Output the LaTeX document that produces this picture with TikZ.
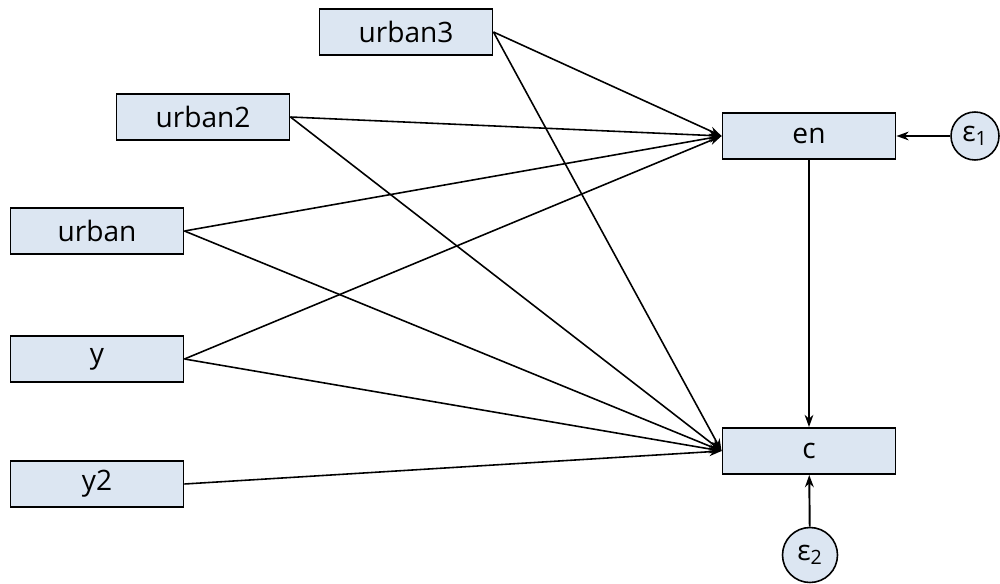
\documentclass[tikz,border=0pt]{standalone}
\usepackage{fontspec}
\setmainfont{Open Sans}
\usepackage{tikz}
\usetikzlibrary{arrows.meta}

\definecolor{boxfill}{RGB}{220,230,242}
\tikzset{
	varbox/.style={shape=rectangle,draw=black,fill=boxfill,line width=1.1pt,minimum width=3.46cm,minimum height=0.92cm,inner sep=0pt,font=\fontsize{16}{18}\selectfont},
	errnode/.style={shape=circle,draw=black,fill=boxfill,line width=0.9pt,minimum size=0.96cm,inner sep=0pt,font=\fontsize{16}{18}\selectfont},
	>={Stealth[length=7pt,width=5pt]}
}

\begin{document}
\begin{tikzpicture}[x=0.02cm,y=-0.02cm]
	\useasboundingbox (0,0) rectangle (1000,584);

	\node[varbox] (U3) at (406,32) {urban3};
	\node[varbox] (U2) at (203,117) {urban2};
	\node[varbox] (U1) at (97,231) {urban};
	\node[varbox] (Y) at (97,359) {y};
	\node[varbox] (Y2) at (97,484) {y2};
	\node[varbox] (EN) at (809,136) {en};
	\node[varbox] (C) at (809,451) {c};
	\node[errnode] (E1) at (975,136) {ε\textsubscript{1}};
	\node[errnode,minimum size=1.1cm] (E2) at (810,555) {ε\textsubscript{2}};

	\path [->,line width=0.9pt](U3.east) edge (EN.west);
	\path [->,line width=0.9pt](U3.east) edge (C.west);
	\path [->,line width=0.9pt](U2.east) edge (EN.west);
	\path [->,line width=0.9pt](U2.east) edge (C.west);
	\path [->,line width=0.9pt](U1.east) edge (EN.west);
	\path [->,line width=0.9pt](U1.east) edge (C.west);
	\path [->,line width=0.9pt](Y.east) edge (EN.west);
	\path [->,line width=0.9pt](Y.east) edge (C.west);
	\path [->,line width=0.9pt](Y2.east) edge (C.west);
	\path [->,line width=0.7pt](EN) edge (C);
	\path [->,line width=0.9pt](E1) edge (EN);
	\path [->,line width=1.1pt](E2) edge (C);
\end{tikzpicture}
\end{document}
